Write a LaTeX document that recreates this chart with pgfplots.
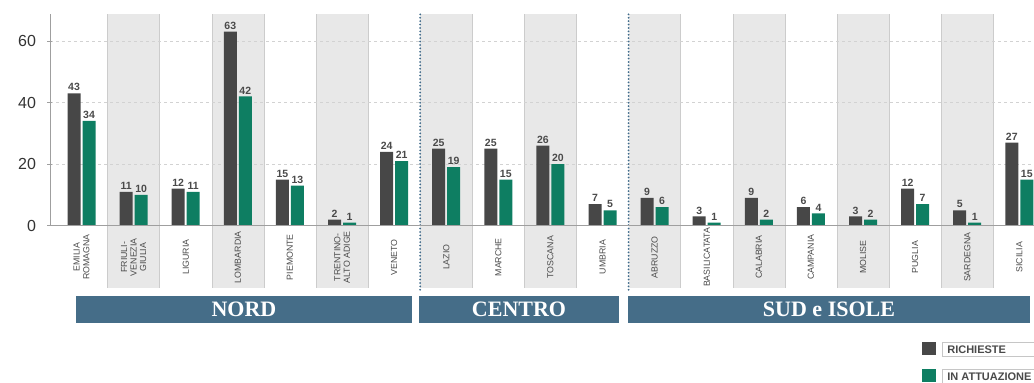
\documentclass[border=0pt]{standalone}
\usepackage{pgfplots}
\pgfplotsset{compat=1.18}
\usepackage{fontspec}
\setmainfont{Liberation Sans}
\newfontfamily\serifbold{Liberation Serif}
\definecolor{richc}{HTML}{474747}
\definecolor{attc}{HTML}{0E7E62}
\definecolor{bandc}{HTML}{E8E8E8}
\definecolor{grpc}{HTML}{456D88}
\definecolor{sepc}{HTML}{3F6A8A}
\definecolor{lblc}{HTML}{4A4A4A}
\newcommand\legbox[2]{\fcolorbox{gray!45}{white}{\makebox[#1][l]{\hspace{2pt}#2}}}
\begin{document}
\begin{tikzpicture}
\useasboundingbox (0,0) rectangle (1034pt,383pt);
\clip (0,0) rectangle (1034pt,383pt);
\begin{axis}[
  at={(50pt,157.3pt)}, anchor=south west,
  x=52.1pt, y=3.08pt,
  xmin=-0.605, xmax=18.28, ymin=0, ymax=68.7,
  clip=false, axis on top,
  axis x line*=bottom, axis y line*=left,
  axis line style={gray!75, line width=0.6pt, -},
  ybar=2pt, bar width=13pt,
  xtick={0,...,18},
  xticklabels={{EMILIA\\ROMAGNA},{FRIULI-\\VENEZIA\\GIULIA},LIGURIA,LOMBARDIA,PIEMONTE,{TRENTINO-\\ALTO ADIGE},VENETO,LAZIO,MARCHE,TOSCANA,UMBRIA,ABRUZZO,BASILICATATA,CALABRIA,CAMPANIA,MOLISE,PUGLIA,SARDEGNA,SICILIA},
  xticklabel style={font=\fontsize{8.8}{9.6}\selectfont, text=lblc, align=center, rotate=90, anchor=center},
  xticklabel shift=29pt,
  x tick style={draw=none},
  ytick={0,20,40,60},
  y tick style={gray!75, line width=0.6pt},
  tick align=center, major tick length=5pt,
  yticklabel style={font=\fontsize{16}{18}\selectfont, text=black!80, xshift=-8pt},
  /pgf/number format/assume math mode=true,
  nodes near coords,
  every node near coord/.append style={font=\bfseries\fontsize{10.5}{12}\selectfont, text=lblc, inner sep=2pt},
  legend style={at={(0.886,-0.54)}, anchor=north west, draw=none, fill=none, inner sep=0pt, row sep=10.5pt, column sep=4pt, font=\bfseries\fontsize{11}{12}\selectfont, text=lblc, cells={anchor=west}},
]
\fill[bandc] (axis cs:0.5,-20.2) rectangle (axis cs:1.5,68.7);
\fill[bandc] (axis cs:2.5,-20.2) rectangle (axis cs:3.5,68.7);
\fill[bandc] (axis cs:4.5,-20.2) rectangle (axis cs:5.5,68.7);
\fill[bandc] (axis cs:6.5,-20.2) rectangle (axis cs:7.5,68.7);
\fill[bandc] (axis cs:8.5,-20.2) rectangle (axis cs:9.5,68.7);
\fill[bandc] (axis cs:10.5,-20.2) rectangle (axis cs:11.5,68.7);
\fill[bandc] (axis cs:12.5,-20.2) rectangle (axis cs:13.5,68.7);
\fill[bandc] (axis cs:14.5,-20.2) rectangle (axis cs:15.5,68.7);
\fill[bandc] (axis cs:16.5,-20.2) rectangle (axis cs:17.5,68.7);
\draw[gray!40, line width=0.5pt] (axis cs:0.5,-20.2) -- (axis cs:0.5,68.7) (axis cs:1.5,-20.2) -- (axis cs:1.5,68.7)
  (axis cs:2.5,-20.2) -- (axis cs:2.5,68.7) (axis cs:3.5,-20.2) -- (axis cs:3.5,68.7)
  (axis cs:4.5,-20.2) -- (axis cs:4.5,68.7) (axis cs:5.5,-20.2) -- (axis cs:5.5,68.7)
  (axis cs:7.5,-20.2) -- (axis cs:7.5,68.7)
  (axis cs:8.5,-20.2) -- (axis cs:8.5,68.7) (axis cs:9.5,-20.2) -- (axis cs:9.5,68.7)
  (axis cs:11.5,-20.2) -- (axis cs:11.5,68.7)
  (axis cs:12.5,-20.2) -- (axis cs:12.5,68.7) (axis cs:13.5,-20.2) -- (axis cs:13.5,68.7)
  (axis cs:14.5,-20.2) -- (axis cs:14.5,68.7) (axis cs:15.5,-20.2) -- (axis cs:15.5,68.7)
  (axis cs:16.5,-20.2) -- (axis cs:16.5,68.7) (axis cs:17.5,-20.2) -- (axis cs:17.5,68.7);
\draw[dashed, gray!35, line width=0.6pt] (axis cs:-0.605,20) -- (axis cs:18.28,20) (axis cs:-0.605,40) -- (axis cs:18.28,40) (axis cs:-0.605,60) -- (axis cs:18.28,60);
\addplot[fill=richc, draw=none, legend image code/.code={\fill[richc] (0pt,-6.5pt) rectangle (14pt,6.5pt);}] coordinates {
(0,43) (1,11) (2,12) (3,63) (4,15) (5,2) (6,24) (7,25) (8,25) (9,26) (10,7) (11,9) (12,3) (13,9) (14,6) (15,3) (16,12) (17,5) (18,27)};
\addplot[fill=attc, draw=none, legend image code/.code={\fill[attc] (0pt,-6.5pt) rectangle (14pt,6.5pt);}] coordinates {
(0,34) (1,10) (2,11) (3,42) (4,13) (5,1) (6,21) (7,19) (8,15) (9,20) (10,5) (11,6) (12,1) (13,2) (14,4) (15,2) (16,7) (17,1) (18,15)};
\legend{\legbox{90pt}{RICHIESTE},\legbox{92pt}{IN ATTUAZIONE}}
\draw[sepc, line width=2pt, line cap=round, dash pattern=on 0pt off 3.4pt] (axis cs:6.5,-20.8) -- (axis cs:6.5,68.7);
\draw[sepc, line width=2pt, line cap=round, dash pattern=on 0pt off 3.4pt] (axis cs:10.5,-20.8) -- (axis cs:10.5,68.7);
\end{axis}
\fill[grpc] (76pt,60pt) rectangle (412pt,87pt);
\node[text=white, font=\serifbold\bfseries\fontsize{22}{24}\selectfont] at (244pt,73.5pt) {NORD};
\fill[grpc] (419pt,60pt) rectangle (619pt,87pt);
\node[text=white, font=\serifbold\bfseries\fontsize{22}{24}\selectfont] at (519pt,73.5pt) {CENTRO};
\fill[grpc] (628pt,60pt) rectangle (1030pt,87pt);
\node[text=white, font=\serifbold\bfseries\fontsize{22}{24}\selectfont] at (829pt,73.5pt) {SUD e ISOLE};
\end{tikzpicture}
\end{document}
